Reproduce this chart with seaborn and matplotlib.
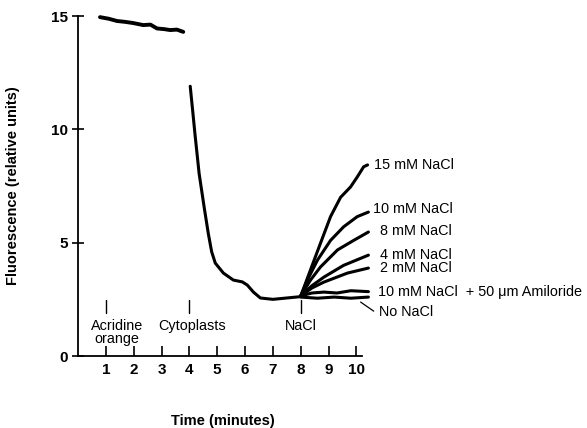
import pandas as pd
import matplotlib
matplotlib.use("Agg")
import matplotlib.pyplot as plt
import seaborn as sns

# baseline with acridine orange only
t_acridine = [0.79, 1.1, 1.4, 1.7, 1.98, 2.34, 2.6, 2.84, 3.1, 3.31, 3.55, 3.78]
f_acridine = [14.95, 14.88, 14.78, 14.74, 14.69, 14.6, 14.62, 14.45, 14.42, 14.38, 14.4, 14.3]

# after cytoplasts added
t_cyto = [4.03, 4.12, 4.2, 4.35, 4.53, 4.68, 4.8, 4.93, 5.22, 5.58, 5.9, 6.08, 6.3, 6.55, 7.0, 7.5, 8.0]
f_cyto = [11.9, 10.8, 9.8, 8.05, 6.57, 5.4, 4.6, 4.1, 3.66, 3.35, 3.27, 3.13, 2.82, 2.56, 2.5, 2.56, 2.62]

# branches after NaCl addition
branch_names = ["15 mM NaCl", "10 mM NaCl", "8 mM NaCl", "4 mM NaCl", "2 mM NaCl",
                "10 mM NaCl  + 50 \u03bcm Amiloride", "No NaCl"]
branch_t = [
    [8.0, 8.35, 8.71, 9.07, 9.43, 9.79, 10.03, 10.26, 10.4],
    [8.0, 8.3, 8.6, 9.07, 9.54, 10.03, 10.43],
    [8.0, 8.35, 8.71, 9.32, 9.9, 10.43],
    [8.0, 8.4, 8.83, 9.54, 10.43],
    [8.0, 8.4, 8.83, 9.68, 10.43],
    [8.0, 8.4, 8.83, 9.3, 9.8, 10.43],
    [8.0, 8.6, 9.2, 9.8, 10.43],
]
branch_f = [
    [2.65, 3.8, 4.98, 6.15, 7.0, 7.46, 7.9, 8.35, 8.43],
    [2.65, 3.5, 4.23, 5.1, 5.7, 6.15, 6.35],
    [2.65, 3.35, 3.93, 4.68, 5.1, 5.47],
    [2.65, 3.1, 3.48, 4.0, 4.45],
    [2.65, 3.0, 3.26, 3.66, 3.88],
    [2.65, 2.78, 2.82, 2.78, 2.88, 2.84],
    [2.6, 2.55, 2.6, 2.55, 2.6],
]
label_x = [10.62, 10.58, 10.84, 10.84, 10.84, 10.76, 10.8]
label_y = [8.43, 6.48, 5.5, 4.46, 3.88, 2.83, 1.94]

events = ["Acridine\norange", "Cytoplasts", "NaCl"]
event_t = [1, 4, 8]
event_label_t = [1.4, 4.1, 8.0]

sns.set_style("ticks")
plt.rcParams['font.family'] = ['Liberation Sans', 'DejaVu Sans']
plt.rcParams['text.color'] = 'black'
plt.rcParams['axes.labelcolor'] = 'black'
plt.rcParams['xtick.color'] = 'black'
plt.rcParams['ytick.color'] = 'black'

fig = plt.figure(figsize=(5.87, 4.28), dpi=100)
ax = fig.add_axes([0.1329, 0.1682, 0.4838, 0.7944])

lw = 2.2
sns.lineplot(x=t_acridine, y=f_acridine, color="black", lw=lw + 0.6, sort=False, ax=ax)
sns.lineplot(x=t_cyto, y=f_cyto, color="black", lw=lw, sort=False, ax=ax)
for t, f in zip(branch_t, branch_f):
    sns.lineplot(x=t, y=f, color="black", lw=lw, sort=False, ax=ax)
for line in ax.lines:
    line.set_clip_on(False)

for name, x, y in zip(branch_names, label_x, label_y):
    ax.text(x, y, name, fontsize=10.4, va="center", ha="left", color="black")
ax.plot([10.15, 10.62], [2.38, 1.98], color="black", lw=0.9, clip_on=False)

for name, t, tl in zip(events, event_t, event_label_t):
    ax.plot([t, t], [1.9, 2.45], color="black", lw=1.0)
    ax.text(tl, 1.65, name, fontsize=10.4, ha="center", va="top", linespacing=0.9,
            color="black")

ax.set_xlim(0, 10.2)
ax.set_ylim(0, 15)
ax.set_xticks(range(1, 11))
ax.set_yticks([0, 5, 10, 15])
sns.despine(ax=ax)
for s in ["left", "bottom"]:
    ax.spines[s].set_linewidth(1.3)
    ax.spines[s].set_color("black")
ax.tick_params(axis="x", direction="in", length=7, width=1.2, pad=5, labelsize=11)
ax.tick_params(axis="y", direction="inout", length=8, width=1.2, pad=3, labelsize=11)
for lab in ax.get_xticklabels() + ax.get_yticklabels():
    lab.set_fontweight("bold")

ax.set_xlabel("Time (minutes)", fontsize=10.5, fontweight="bold")
ax.set_ylabel("Fluorescence (relative units)", fontsize=10.5, fontweight="bold")
ax.xaxis.set_label_coords(0.51, -0.172)
ax.yaxis.set_label_coords(-0.205, 0.5)

fig.savefig("out.png", dpi=100)
